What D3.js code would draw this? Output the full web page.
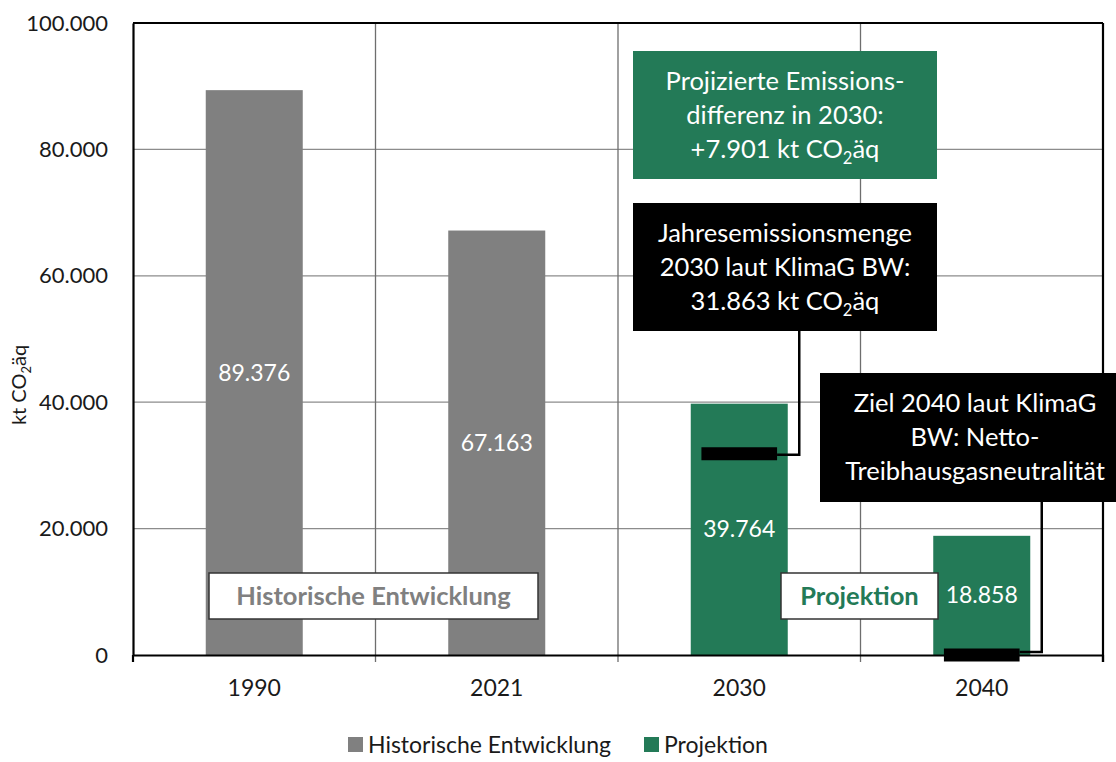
<!DOCTYPE html>
<html>
<head>
<meta charset="utf-8">
<script src="https://cdn.jsdelivr.net/npm/d3@7"></script>
<style>
  body { margin: 0; background: #fff; }
  svg text { font-family: Lato, "Open Sans", sans-serif; }
</style>
</head>
<body>
<div class="canva"></div>
<script>
// data
const categories = ["1990", "2021", "2030", "2040"];
const values = [89376, 67163, 39764, 18858];
const seriesOf = ["Historische Entwicklung", "Historische Entwicklung", "Projektion", "Projektion"];
const seriesNames = ["Historische Entwicklung", "Projektion"];
const seriesColors = ["#808080", "#237a57"];
const targetCats = ["2030", "2040"];
const targetValues = [31863, 0];
const yTicks = [0, 20000, 40000, 60000, 80000, 100000];

const de = d3.formatLocale({ decimal: ",", thousands: ".", grouping: [3], currency: ["", " €"] });
const fmt = de.format(",d");

const W = 1116, H = 762;
const svg = d3.select(".canva").append("svg").attr("width", W).attr("height", H);

const x = d3.scaleBand().domain(categories).range([133, 1103]).paddingInner(0.6).paddingOuter(0.3);
const y = d3.scaleLinear().domain([0, 100000]).range([655, 23]);
const color = d3.scaleOrdinal().domain(seriesNames).range(seriesColors);
const step = x.step();
const left = 133, right = 1103;

// horizontal gridlines
svg.append("g")
  .selectAll("line")
  .data(yTicks.filter(d => d > 0 && d < 100000))
  .join("line")
  .attr("x1", left).attr("x2", right)
  .attr("y1", d => y(d)).attr("y2", d => y(d))
  .attr("stroke", "#8c8c8c").attr("stroke-width", 1.3);

// vertical gridlines at category boundaries
svg.append("g")
  .selectAll("line")
  .data(categories.slice(1))
  .join("line")
  .attr("x1", c => x(c) + x.bandwidth() / 2 - step / 2)
  .attr("x2", c => x(c) + x.bandwidth() / 2 - step / 2)
  .attr("y1", y(100000)).attr("y2", y(0) + 7)
  .attr("stroke", "#6e6e6e").attr("stroke-width", 1.3);

// bars
svg.append("g")
  .selectAll("rect")
  .data(categories)
  .join("rect")
  .attr("x", c => x(c))
  .attr("width", x.bandwidth())
  .attr("y", (c, i) => y(values[i]))
  .attr("height", (c, i) => y(0) - y(values[i]))
  .attr("fill", (c, i) => color(seriesOf[i]));

// value labels
svg.append("g")
  .selectAll("text")
  .data(categories)
  .join("text")
  .attr("x", c => x(c) + x.bandwidth() / 2)
  .attr("y", (c, i) => (y(values[i]) + y(0)) / 2)
  .attr("dy", "0.35em")
  .attr("text-anchor", "middle")
  .attr("fill", "#fff")
  .attr("font-size", 23)
  .text((c, i) => fmt(values[i]));

// frame: top and right border
svg.append("line").attr("x1", left).attr("x2", right).attr("y1", y(100000)).attr("y2", y(100000))
  .attr("stroke", "#000").attr("stroke-width", 2.2);
svg.append("line").attr("x1", right).attr("x2", right).attr("y1", y(100000)).attr("y2", y(0) + 7)
  .attr("stroke", "#000").attr("stroke-width", 2.2);

// y axis
const yAxis = svg.append("g")
  .attr("transform", `translate(${left},0)`)
  .call(d3.axisLeft(y).tickValues(yTicks).tickFormat(fmt).tickSize(0).tickPadding(25));
yAxis.select(".domain").attr("stroke", "#000").attr("stroke-width", 2.2);
yAxis.selectAll("text").attr("font-size", 22).attr("fill", "#1a1a1a").style("font-family", "Lato");

// x axis
const xAxis = svg.append("g")
  .attr("transform", `translate(0,${y(0)})`)
  .call(d3.axisBottom(x).tickSize(0).tickPadding(25));
xAxis.select(".domain").attr("stroke", "#000").attr("stroke-width", 2.2);
xAxis.selectAll("text").attr("font-size", 23).attr("fill", "#1a1a1a").style("font-family", "Lato");
// tick marks below axis at boundaries
svg.append("g")
  .selectAll("line")
  .data([left, right])
  .join("line")
  .attr("x1", d => d).attr("x2", d => d)
  .attr("y1", y(0)).attr("y2", y(0) + 7)
  .attr("stroke", "#000").attr("stroke-width", 2.2);

// y axis title
const yt = svg.append("text")
  .attr("transform", "translate(26,385) rotate(-90)")
  .attr("text-anchor", "middle")
  .attr("font-size", 20)
  .attr("fill", "#1a1a1a");
yt.append("tspan").text("kt CO");
yt.append("tspan").text("2").attr("font-size", 13).attr("dy", 5);
yt.append("tspan").text("äq").attr("dy", -5);

// target markers
const markerW = x.bandwidth() * 0.78;
targetCats.forEach((c, i) => {
  const cx = x(c) + x.bandwidth() / 2;
  svg.append("line")
    .attr("x1", cx - markerW / 2).attr("x2", cx + markerW / 2)
    .attr("y1", y(targetValues[i])).attr("y2", y(targetValues[i]))
    .attr("stroke", "#000").attr("stroke-width", 13);
});

// connector lines
function connector(c, v, topY, dy) {
  const cx = x(c) + x.bandwidth() / 2;
  const yy = y(v) + dy;
  svg.append("path")
    .attr("d", `M${cx + markerW / 2},${yy}H${cx + 60}V${topY}`)
    .attr("fill", "none").attr("stroke", "#000").attr("stroke-width", 2.5);
}
connector("2030", targetValues[0], 331, 1);
connector("2040", targetValues[1], 502, -3);

// annotation boxes
function box(x0, y0, w, h, fill, stroke, lines, textColor, size, bold, lineH, tx) {
  const g = svg.append("g");
  g.append("rect").attr("x", x0).attr("y", y0).attr("width", w).attr("height", h)
    .attr("fill", fill).attr("stroke", stroke).attr("stroke-width", stroke === "none" ? 0 : 1.5);
  const cy = y0 + h / 2 - (lines.length - 1) * lineH / 2;
  lines.forEach((ln, i) => {
    const t = g.append("text")
      .attr("x", tx || x0 + w / 2).attr("y", cy + i * lineH).attr("dy", "0.35em")
      .attr("text-anchor", "middle").attr("fill", textColor)
      .attr("font-size", size).attr("font-weight", bold ? 700 : 400);
    ln.forEach(part => {
      if (part.sub) {
        t.append("tspan").text(part.sub).attr("font-size", size * 0.65).attr("dy", 6);
      } else {
        t.append("tspan").text(part.t).attr("dy", part.up ? -6 : null);
      }
    });
  });
  return g;
}

box(633, 51, 304, 128, "#237a57", "none", [
  [{ t: "Projizierte Emissions-" }],
  [{ t: "differenz in 2030:" }],
  [{ t: "+7.901 kt CO" }, { sub: "2" }, { t: "äq", up: true }]
], "#fff", 25.5, false, 34);

box(633, 203, 304, 128, "#000", "none", [
  [{ t: "Jahresemissionsmenge" }],
  [{ t: "2030 laut KlimaG BW:" }],
  [{ t: "31.863 kt CO" }, { sub: "2" }, { t: "äq", up: true }]
], "#fff", 25.5, false, 34);

box(820, 373, 300, 129, "#000", "none", [
  [{ t: "Ziel 2040 laut KlimaG" }],
  [{ t: "BW: Netto-" }],
  [{ t: "Treibhausgasneutralität" }]
], "#fff", 25.5, false, 34, 975);

box(209, 573, 329, 46, "#fff", "#333", [[{ t: "Historische Entwicklung" }]], "#808080", 25.5, true, 0);
box(781, 573, 157, 46, "#fff", "#333", [[{ t: "Projektion" }]], "#237a57", 25.5, true, 0);

// legend
const legend = svg.append("g");
const legX = [348, 644];
seriesNames.forEach((s, i) => {
  legend.append("rect").attr("x", legX[i]).attr("y", 737).attr("width", 15).attr("height", 15).attr("fill", color(s));
  legend.append("text").attr("x", legX[i] + 20).attr("y", 745).attr("dy", "0.35em")
    .attr("font-size", 23).attr("fill", "#1a1a1a").text(s);
});
</script>
</body>
</html>
